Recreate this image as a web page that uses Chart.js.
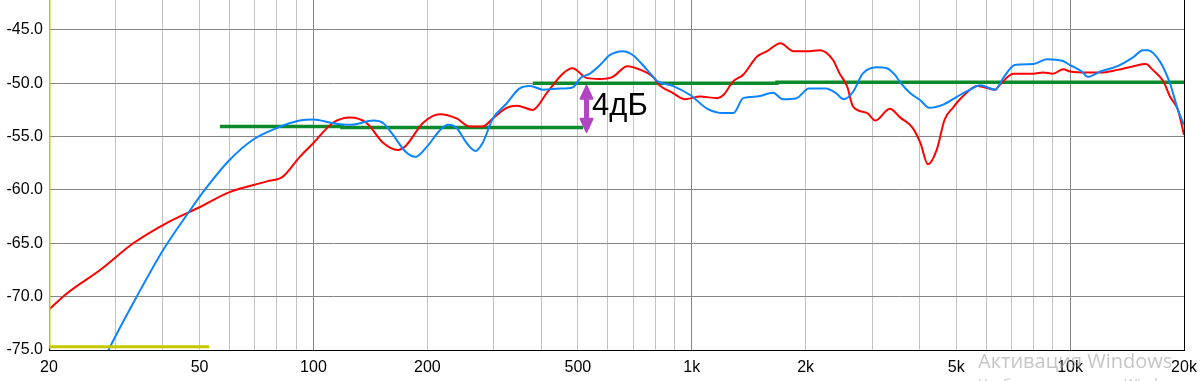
<!DOCTYPE html>
<html>
<head>
<meta charset="utf-8">
<script src="https://cdn.jsdelivr.net/npm/chart.js@4.4.1/dist/chart.umd.min.js"></script>
<style>
  html, body { margin: 0; padding: 0; background: #fff; }
  #chart-wrap { width: 1201px; height: 381px; }
</style>
</head>
<body>
<div id="chart-wrap"><canvas id="response-chart" width="1201" height="381"></canvas></div>
<script>
// Frequency response data (Hz / dB)
const redFreq = [20, 22.3, 27.3, 33.4, 40.9, 50.1, 60, 75.4, 83, 92, 100, 112.6, 125, 138, 153, 167, 175, 195, 216, 239, 259, 280, 298, 324, 345, 380, 414, 456, 484, 527, 572, 618, 676, 732, 790, 822, 890, 960, 1052, 1168, 1212, 1288, 1368, 1488, 1582, 1716, 1858, 2014, 2180, 2360, 2460, 2574, 2670, 2910, 3056, 3340, 3552, 3840, 4020, 4210, 4440, 4660, 4900, 5200, 5680, 6340, 6500, 7080, 8000, 8480, 9000, 9600, 10000, 11100, 12020, 13340, 14700, 15840, 16540, 17620, 18360, 19280, 20000];
const redDb = [-71.2, -69.7, -67.5, -65.0, -63.1, -61.6, -60.2, -59.2, -58.75, -56.9, -55.6, -53.7, -53.2, -53.7, -55.6, -56.25, -55.9, -53.7, -52.9, -53.3, -54.06, -54.06, -53.3, -52.3, -52.1, -52.5, -50.9, -49.1, -48.6, -49.5, -49.6, -49.4, -48.4, -48.75, -49.4, -50.2, -50.9, -51.5, -51.25, -51.4, -51.1, -49.8, -49.2, -47.5, -47.0, -46.25, -47.0, -47.0, -46.9, -47.8, -49.1, -50.3, -52.2, -52.8, -53.5, -52.4, -53.2, -54.2, -55.6, -57.6, -56.25, -53.4, -52.3, -51.25, -50.25, -50.6, -50.2, -49.1, -49.1, -49.0, -49.1, -48.7, -48.9, -49.0, -49.0, -48.75, -48.4, -48.2, -48.75, -49.8, -51.25, -52.5, -54.85];

const blueFreq = [25, 29, 34.1, 40.1, 47.2, 51.6, 60, 69.2, 80, 92, 100, 112.6, 125, 144, 153, 162, 175, 186, 200, 216, 227, 239, 254, 268, 280, 298, 324, 350, 374, 404, 448, 484, 508, 538, 572, 608, 658, 698, 762, 810, 890, 990, 1100, 1212, 1288, 1368, 1488, 1640, 1740, 1892, 2040, 2260, 2400, 2520, 2670, 2830, 3080, 3280, 3440, 3552, 3770, 4020, 4240, 4620, 5030, 5440, 5780, 6340, 6660, 7140, 8000, 8680, 9540, 10000, 10740, 11140, 12020, 13340, 14700, 15580, 16060, 17300, 18360, 19280, 20000];
const blueDb = [-79.5, -74.7, -70.0, -65.6, -61.9, -60.0, -57.2, -55.3, -54.2, -53.5, -53.4, -53.75, -53.9, -53.5, -53.75, -54.8, -56.4, -56.9, -55.9, -54.4, -53.9, -54.2, -55.6, -56.35, -55.6, -53.3, -51.9, -50.5, -50.25, -50.6, -50.5, -50.4, -49.5, -49.1, -48.3, -47.35, -47.0, -47.35, -48.75, -49.8, -50.25, -51.1, -52.4, -52.8, -52.8, -51.4, -51.25, -50.9, -51.5, -51.4, -50.5, -50.5, -50.9, -51.5, -50.8, -49.1, -48.5, -48.6, -49.2, -49.9, -50.9, -51.6, -52.3, -52.0, -51.25, -50.6, -50.2, -50.6, -49.5, -48.3, -48.2, -47.75, -47.9, -48.3, -48.9, -49.4, -48.9, -48.4, -47.55, -46.9, -46.9, -48.0, -50.0, -52.5, -53.9];

// target level lines
const greenLowFreq = [56.6, 119, 119, 516];
const greenLowDb = [-54.05, -54.05, -54.15, -54.15];
const greenHighFreq = [380, 1680, 1680, 20500];
const greenHighDb = [-50.0, -50.0, -49.9, -49.9];

const yellowFreq = [20, 20, 53];
const yellowDb = [-30, -74.7, -74.7];

// 4 dB marker
const arrowFreq = 527;
const arrowTopDb = -50.15;
const arrowBottomDb = -54.65;
const markerText = '4дБ';
const markerFreq = 545;
const markerDb = -52.2;

// axes
const xGridFreqs = [20, 30, 40, 50, 60, 70, 80, 90, 100, 200, 300, 400, 500, 600, 700, 800, 900, 1000, 2000, 3000, 4000, 5000, 6000, 7000, 8000, 9000, 10000, 20000];
const xTickLabels = { 20: '20', 50: '50', 100: '100', 200: '200', 500: '500', 1000: '1k', 2000: '2k', 5000: '5k', 10000: '10k', 20000: '20k' };
const xMajorFreqs = [100, 1000, 10000];
const yTickValues = [-75, -70, -65, -60, -55, -50, -45];

const toPoints = (xs, ys) => xs.map((f, i) => ({ x: f, y: ys[i] }));

const markerPlugin = {
  id: 'marker',
  afterDatasetsDraw(chart) {
    const { ctx, scales: { x, y } } = chart;
    const px = x.getPixelForValue(arrowFreq);
    const yTop = y.getPixelForValue(arrowTopDb);
    const yBot = y.getPixelForValue(arrowBottomDb);
    ctx.save();
    ctx.strokeStyle = '#b245c2';
    ctx.fillStyle = '#b245c2';
    ctx.lineWidth = 5;
    ctx.lineCap = 'round';
    ctx.lineJoin = 'round';
    ctx.beginPath();
    ctx.moveTo(px, yTop + 10);
    ctx.lineTo(px, yBot - 10);
    ctx.stroke();
    // arrow heads
    ctx.lineWidth = 2;
    ctx.beginPath();
    ctx.moveTo(px, yTop + 1);
    ctx.lineTo(px - 6, yTop + 14);
    ctx.lineTo(px + 6, yTop + 14);
    ctx.closePath();
    ctx.fill();
    ctx.stroke();
    ctx.beginPath();
    ctx.moveTo(px, yBot - 1);
    ctx.lineTo(px - 6, yBot - 14);
    ctx.lineTo(px + 6, yBot - 14);
    ctx.closePath();
    ctx.fill();
    ctx.stroke();

    ctx.fillStyle = '#000';
    ctx.font = '31px "Liberation Sans", Arial, sans-serif';
    ctx.textAlign = 'left';
    ctx.textBaseline = 'middle';
    ctx.fillText(markerText, x.getPixelForValue(markerFreq), y.getPixelForValue(markerDb));
    ctx.restore();
  },
  afterDraw(chart) {
    // windows watermark
    const ctx = chart.ctx;
    ctx.save();
    ctx.fillStyle = 'rgba(160,160,160,0.6)';
    ctx.textAlign = 'left';
    ctx.textBaseline = 'alphabetic';
    ctx.font = '20px "Open Sans", sans-serif';
    ctx.fillText('Активация Windows', 978, 368);
    ctx.font = '14px "Open Sans", sans-serif';
    ctx.fillText('Чтобы активировать Windows, перейдите в раздел "Параметры".', 978, 389);
    ctx.restore();
  }
};

function renderResponseChart() {
  const ctx = document.getElementById('response-chart').getContext('2d');
  const tickFont = { family: '"Liberation Sans", Arial, sans-serif', size: 16 };

  new Chart(ctx, {
    type: 'line',
    data: {
      datasets: [
        { data: toPoints(yellowFreq, yellowDb), borderColor: '#c8c800', borderWidth: 3, tension: 0 },
        { data: toPoints(blueFreq, blueDb), borderColor: '#0a84ff', borderWidth: 2, cubicInterpolationMode: 'monotone' },
        { data: toPoints(redFreq, redDb), borderColor: '#ff0000', borderWidth: 2, cubicInterpolationMode: 'monotone' },
        { data: toPoints(greenLowFreq, greenLowDb), borderColor: '#0a8a2a', borderWidth: 3.5, tension: 0 },
        { data: toPoints(greenHighFreq, greenHighDb), borderColor: '#0a8a2a', borderWidth: 3.5, tension: 0 }
      ]
    },
    options: {
      responsive: false,
      animation: false,
      elements: { point: { radius: 0, hoverRadius: 0 } },
      layout: { padding: 0 },
      plugins: { legend: { display: false }, tooltip: { enabled: false } },
      scales: {
        x: {
          type: 'logarithmic',
          min: 20,
          max: 20000,
          afterBuildTicks: (scale) => { scale.ticks = xGridFreqs.map(v => ({ value: v })); },
          afterFit: (scale) => { scale.height = 31; scale.paddingLeft = 0; scale.paddingRight = 0; },
          ticks: {
            autoSkip: false,
            maxRotation: 0,
            padding: 8,
            color: '#000',
            font: tickFont,
            callback: (v) => xTickLabels[v] || ''
          },
          grid: {
            drawTicks: false,
            lineWidth: 1,
            color: (c) => (c.tick && xMajorFreqs.includes(c.tick.value)) ? '#868686' : '#c3c3c3'
          },
          border: { color: '#000', width: 1 }
        },
        y: {
          min: -75,
          max: -42.2,
          afterBuildTicks: (scale) => { scale.ticks = yTickValues.map(v => ({ value: v })); },
          afterFit: (scale) => { scale.width = 49; scale.paddingTop = 0; scale.paddingBottom = 0; },
          ticks: {
            padding: 6,
            color: '#000',
            font: tickFont,
            callback: (v) => Number(v).toFixed(1)
          },
          grid: { drawTicks: false, color: '#868686', lineWidth: 1 },
          border: { color: '#000', width: 1 }
        },
        yRight: {
          position: 'right',
          min: -75,
          max: -42.2,
          afterFit: (scale) => { scale.width = 17; scale.paddingTop = 0; scale.paddingBottom = 0; },
          ticks: { display: false },
          grid: { drawOnChartArea: false, drawTicks: false },
          border: { color: '#000', width: 1 }
        }
      }
    },
    plugins: [markerPlugin]
  });
}

renderResponseChart();
</script>
</body>
</html>
